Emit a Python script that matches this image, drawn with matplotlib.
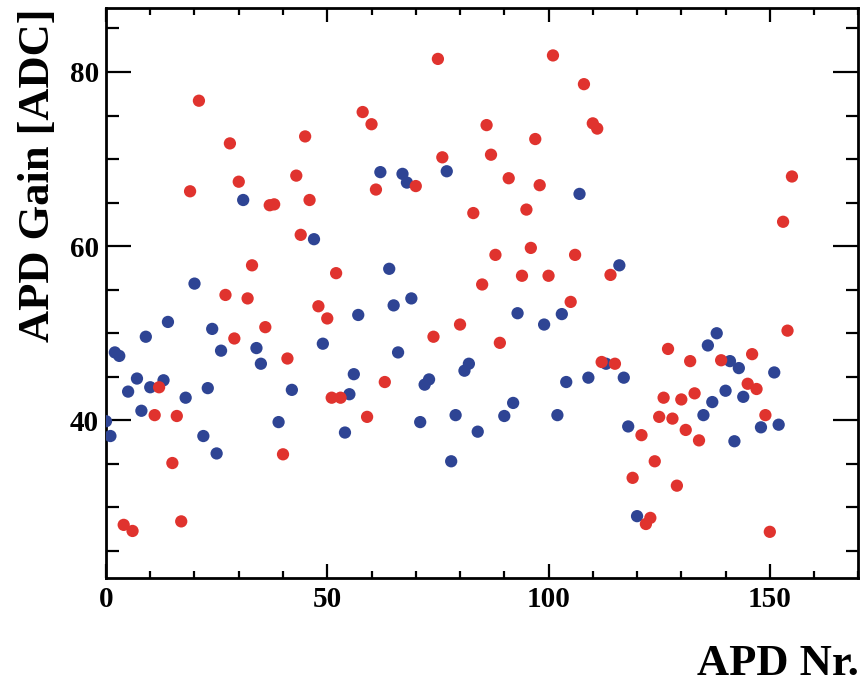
import matplotlib
matplotlib.use("Agg")
import matplotlib.pyplot as plt
from matplotlib.ticker import MultipleLocator

# APD number, gain and group (R = red set, B = blue set), rows of 10
apd_nr = list(range(156))
gain = [39.9, 38.2, 47.8, 47.4, 28.0, 43.3, 27.3, 44.8, 41.1, 49.6,
        43.8, 40.6, 43.8, 44.6, 51.3, 35.1, 40.5, 28.4, 42.6, 66.3,
        55.7, 76.7, 38.2, 43.7, 50.5, 36.2, 48.0, 54.4, 71.8, 49.4,
        67.4, 65.3, 54.0, 57.8, 48.3, 46.5, 50.7, 64.7, 64.8, 39.8,
        36.1, 47.1, 43.5, 68.1, 61.3, 72.6, 65.3, 60.8, 53.1, 48.8,
        51.7, 42.6, 56.9, 42.6, 38.6, 43.0, 45.3, 52.1, 75.4, 40.4,
        74.0, 66.5, 68.5, 44.4, 57.4, 53.2, 47.8, 68.3, 67.3, 54.0,
        66.9, 39.8, 44.1, 44.7, 49.6, 81.5, 70.2, 68.6, 35.3, 40.6,
        51.0, 45.7, 46.5, 63.8, 38.7, 55.6, 73.9, 70.5, 59.0, 48.9,
        40.5, 67.8, 42.0, 52.3, 56.6, 64.2, 59.8, 72.3, 67.0, 51.0,
        56.6, 81.9, 40.6, 52.2, 44.4, 53.6, 59.0, 66.0, 78.6, 44.9,
        74.1, 73.5, 46.7, 46.5, 56.7, 46.5, 57.8, 44.9, 39.3, 33.4,
        29.0, 38.3, 28.1, 28.8, 35.3, 40.4, 42.6, 48.2, 40.2, 32.5,
        42.4, 38.9, 46.8, 43.1, 37.7, 40.6, 48.6, 42.1, 50.0, 46.9,
        43.4, 46.8, 37.6, 46.0, 42.7, 44.2, 47.6, 43.6, 39.2, 40.6,
        27.2, 45.5, 39.5, 62.8, 50.3, 68.0]
group = ("BBBBRBRBBB"
         "BRRBBRRRBR"
         "BRBBBBBRRR"
         "RBRRBBRRRB"
         "RRBRRRRBRB"
         "RRRRBBBBRR"
         "RRBRBBBBBB"
         "RBBBRRRBBB"
         "RBBRBRRRRR"
         "BRBBRRRRRB"
         "RRBBBRRBRB"
         "RRRBRRBBBR"
         "BRRRRRRRRR"
         "RRRRRBBBBR"
         "BBBBBRRRBR"
         "RBBRRR")

red_x = [x for x, g in zip(apd_nr, group) if g == "R"]
red_y = [y for y, g in zip(gain, group) if g == "R"]
blue_x = [x for x, g in zip(apd_nr, group) if g == "B"]
blue_y = [y for y, g in zip(gain, group) if g == "B"]

plt.rcParams["font.family"] = ["Liberation Serif", "DejaVu Serif"]
plt.rcParams["font.weight"] = "bold"

fig = plt.figure(figsize=(8.61, 6.88), dpi=100)
ax = fig.add_axes([0.1231, 0.1599, 0.8738, 0.8279])

ax.scatter(blue_x, blue_y, s=78, color="#2e4494", edgecolors="none", zorder=3)
ax.scatter(red_x, red_y, s=78, color="#e0332e", edgecolors="none", zorder=3)

ax.set_xlim(0, 170)
ax.set_ylim(21.9, 87.3)

ax.xaxis.set_major_locator(MultipleLocator(50))
ax.xaxis.set_minor_locator(MultipleLocator(10))
ax.yaxis.set_major_locator(MultipleLocator(20))
ax.yaxis.set_minor_locator(MultipleLocator(5))

ax.tick_params(axis="both", which="both", direction="in", top=True, right=True,
               width=1.6, colors="black")
ax.tick_params(axis="x", which="major", length=10, pad=6, labelsize=21)
ax.tick_params(axis="x", which="minor", length=5)
ax.tick_params(axis="y", which="major", length=18, pad=5, labelsize=21)
ax.tick_params(axis="y", which="minor", length=9)

for lab in ax.get_xticklabels() + ax.get_yticklabels():
    lab.set_fontweight("bold")

for sp in ax.spines.values():
    sp.set_linewidth(2)

fig.text(0.997, 0.006, "APD Nr.", ha="right", va="bottom", fontsize=32, fontweight="bold")
fig.text(0.044, 0.987, "APD Gain [ADC]", ha="center", va="top", rotation=90,
         fontsize=32, fontweight="bold")

fig.savefig("out.png", dpi=100)
